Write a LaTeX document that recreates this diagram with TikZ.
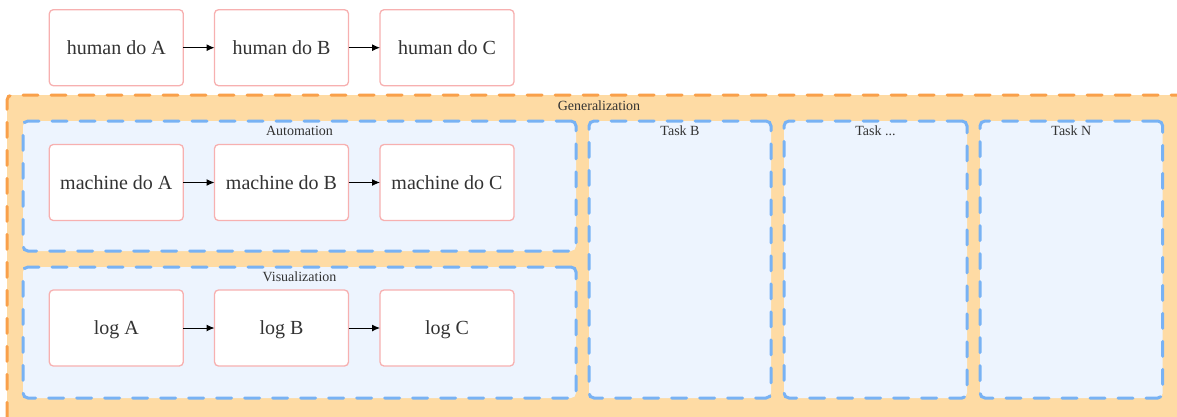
\documentclass[tikz,border=0pt]{standalone}
\usepackage{fontspec}
\setmainfont{Liberation Serif}
\usetikzlibrary{arrows.meta}

\definecolor{txtgray}{HTML}{333333}
\definecolor{boxpink}{HTML}{F7B0B0}
\definecolor{genfill}{HTML}{FEDBA4}
\definecolor{gendash}{HTML}{F9A04A}
\definecolor{taskfill}{HTML}{EDF4FE}
\definecolor{taskdash}{HTML}{78B2F4}

\tikzset{
  stepbox/.style={rectangle, rounded corners=4pt, draw=boxpink, fill=white,
    line width=1.3pt, minimum width=134pt, minimum height=76pt,
    inner sep=0pt, outer sep=0pt, text=txtgray,
    font=\fontsize{20}{24}\selectfont, text height=13.6pt, text depth=0pt},
  groupbox/.style={rectangle, rounded corners=5pt, line width=3pt,
    dash pattern=on 15pt off 13pt, line cap=round,
    inner sep=0pt, outer sep=0pt},
  genbox/.style={groupbox, draw=gendash, fill=genfill},
  taskbox/.style={groupbox, draw=taskdash, fill=taskfill},
  grouplabel/.style={anchor=base, inner sep=0pt, text=txtgray,
    font=\fontsize{14}{16}\selectfont},
  arr/.style={-{Latex[length=8pt,width=7pt]}, line width=1pt, black},
}

\begin{document}
\begin{tikzpicture}[x=1pt, y=-1pt]
\useasboundingbox (0,0) rectangle (1177,416);
\clip (0,0) rectangle (1177,416);

% manual process
\node[stepbox] (hA) at (116.3,47.7) {human do A};
\node[stepbox] (hB) at (281.5,47.7) {human do B};
\node[stepbox] (hC) at (447,47.7) {human do C};
\draw[arr] (hA) -- (hB);
\draw[arr] (hB) -- (hC);

% generalization container
\node[genbox, minimum width=1184pt, minimum height=330pt] (gen) at (599,260) {};
\node[grouplabel] (genlbl) at ([yshift=-15pt]gen.north) {Generalization};

% task containers
\node[taskbox, minimum width=553pt, minimum height=130pt] (auto) at (299.5,186) {};
\node[grouplabel] (autolbl) at ([yshift=-14.8pt]auto.north) {Automation};
\node[taskbox, minimum width=553pt, minimum height=131pt] (vis) at (299.5,332.5) {};
\node[grouplabel] (vislbl) at ([yshift=-14.8pt]vis.north) {Visualization};
\node[taskbox, minimum width=182pt, minimum height=277pt] (taskB) at (680,259.5) {};
\node[grouplabel] (taskBlbl) at ([yshift=-14.8pt]taskB.north) {Task B};
\node[taskbox, minimum width=183pt, minimum height=277pt] (taskX) at (875.5,259.5) {};
\node[grouplabel] (taskXlbl) at ([yshift=-14.8pt]taskX.north) {Task ...};
\node[taskbox, minimum width=182.7pt, minimum height=277pt] (taskN) at (1071.35,259.5) {};
\node[grouplabel] (taskNlbl) at ([yshift=-14.8pt]taskN.north) {Task N};

% automated process
\node[stepbox] (mA) at (116.3,182.5) {machine do A};
\node[stepbox] (mB) at (281.5,182.5) {machine do B};
\node[stepbox] (mC) at (447,182.5) {machine do C};
\draw[arr] (mA) -- (mB);
\draw[arr] (mB) -- (mC);

% logged process
\node[stepbox] (lA) at (116.3,328) {log A};
\node[stepbox] (lB) at (281.5,328) {log B};
\node[stepbox] (lC) at (447,328) {log C};
\draw[arr] (lA) -- (lB);
\draw[arr] (lB) -- (lC);
\end{tikzpicture}
\end{document}
